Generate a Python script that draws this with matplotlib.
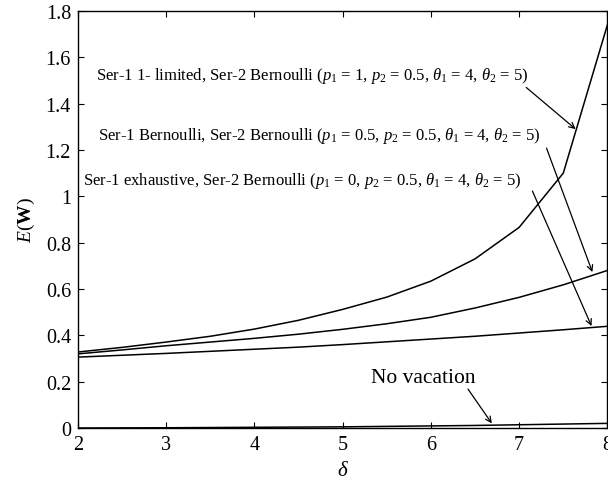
import numpy as np
import matplotlib
matplotlib.use("Agg")
import matplotlib.pyplot as plt

plt.rcParams['font.family'] = ['Liberation Serif', 'DejaVu Serif']
plt.rcParams['mathtext.fontset'] = 'custom'
plt.rcParams['mathtext.rm'] = 'Liberation Serif'
plt.rcParams['mathtext.it'] = 'Liberation Serif:italic'
plt.rcParams['mathtext.bf'] = 'Liberation Serif:bold'

# data
delta = [2, 2.5, 3, 3.5, 4, 4.5, 5, 5.5, 6, 6.5, 7, 7.5, 8]
limited_1 = [0.328, 0.348, 0.371, 0.396, 0.427, 0.465, 0.512, 0.565, 0.634, 0.730, 0.866, 1.100, 1.740]
bernoulli = [0.320, 0.337, 0.355, 0.371, 0.387, 0.405, 0.426, 0.450, 0.478, 0.518, 0.564, 0.618, 0.680]
exhaustive = [0.306, 0.314, 0.322, 0.331, 0.340, 0.349, 0.360, 0.372, 0.384, 0.396, 0.410, 0.424, 0.439]
no_vacation = [0.0, 0.0005, 0.001, 0.002, 0.003, 0.004, 0.005, 0.007, 0.009, 0.011, 0.014, 0.017, 0.020]

labels = [
    r'Ser-1 1- limited, Ser-2 Bernoulli ($p_1$ = 1, $p_2$ = 0.5, $\theta_1$ = 4, $\theta_2$ = 5)',
    r'Ser-1 Bernoulli, Ser-2 Bernoulli ($p_1$ = 0.5, $p_2$ = 0.5, $\theta_1$ = 4, $\theta_2$ = 5)',
    r'Ser-1 exhaustive, Ser-2 Bernoulli ($p_1$ = 0, $p_2$ = 0.5, $\theta_1$ = 4, $\theta_2$ = 5)',
]

fig = plt.figure(figsize=(6.08, 4.89), dpi=100)
ax = fig.add_axes([0.1283, 0.1227, 0.8717 - 0.001, 0.8528])

for ys in [limited_1, bernoulli, exhaustive, no_vacation]:
    ax.plot(delta, ys, color='black', linewidth=1.1)

ax.set_xlim(2, 8)
ax.set_ylim(0, 1.8)
ax.set_xticks([2, 3, 4, 5, 6, 7, 8])
ax.set_xticklabels(['2', '3', '4', '5', '6', '7', '8'])
ax.set_yticks([0, 0.2, 0.4, 0.6, 0.8, 1.0, 1.2, 1.4, 1.6, 1.8])
ax.set_yticklabels(['0', '0.2', '0.4', '0.6', '0.8', '1', '1.2', '1.4', '1.6', '1.8'])
ax.tick_params(direction='in', top=True, right=True, length=4, labelsize=14.5, pad=5)
for s in ax.spines.values():
    s.set_linewidth(1.0)

ax.set_xlabel(r'$\delta$', fontsize=15, labelpad=5)
ax.set_ylabel(r'$E(\mathbf{W})$', fontsize=14, labelpad=6)

arrow = dict(arrowstyle='->', color='black', lw=0.9, shrinkA=0, shrinkB=0)

# curve labels
ax.text(2.204, 1.523, labels[0], fontsize=12, va='center', ha='left')
ax.text(2.226, 1.265, labels[1], fontsize=12, va='center', ha='left')
ax.text(2.057, 1.070, labels[2], fontsize=12, va='center', ha='left')
ax.annotate('', xy=(7.64, 1.29), xytext=(7.08, 1.47), arrowprops=arrow)
ax.annotate('', xy=(7.83, 0.673), xytext=(7.31, 1.208), arrowprops=arrow)
ax.annotate('', xy=(7.82, 0.44), xytext=(7.15, 1.023), arrowprops=arrow)

ax.text(5.91, 0.22, 'No vacation', fontsize=15.5, va='center', ha='center')
ax.annotate('', xy=(6.69, 0.02), xytext=(6.42, 0.168), arrowprops=arrow)

plt.savefig('out.png', dpi=100)
